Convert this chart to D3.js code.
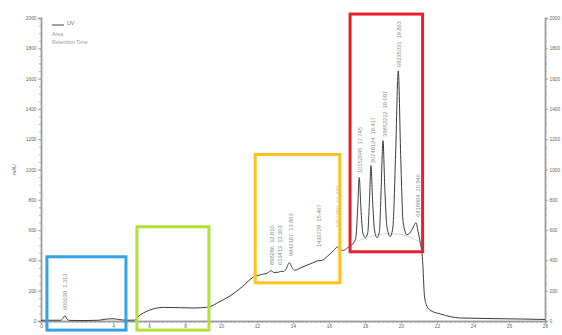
<!DOCTYPE html>
<html>
<head>
<meta charset="utf-8">
<script src="https://cdn.jsdelivr.net/npm/d3@7"></script>
<style>
  body { margin: 0; background: #fff; }
  svg { display: block; font-family: "Liberation Sans", Arial, sans-serif; }
  .pk { white-space: pre; }
</style>
</head>
<body>
<div id="chart"></div>
<script>
// retention time (min) and absorbance (mAU)
const traceTime = [0, 0.5, 1.1, 1.22, 1.33, 1.45, 1.6, 2.5, 3.2, 3.6, 4.0, 4.3, 4.8, 5.2, 5.4, 5.8, 6.3, 6.8, 7.7, 8.5, 9.2,
  9.5, 9.8, 10.5, 11.2, 11.8, 12.2, 12.6, 12.78, 12.95, 13.2, 13.3, 13.45, 13.6, 13.8, 13.98, 14.1, 14.4, 15.1, 15.4, 15.6,
  15.9, 16.3, 16.45, 16.6, 16.8, 17.05, 17.37, 17.5, 17.6, 17.68, 17.77, 17.88, 18.02, 18.15, 18.25, 18.33, 18.42, 18.53,
  18.67, 18.8, 18.9, 19.0, 19.1, 19.22, 19.4, 19.55, 19.7, 19.85, 19.98, 20.12, 20.33, 20.55, 20.72, 20.83, 20.95, 21.07,
  21.2, 21.3, 21.4, 21.6, 22.2, 23.3, 26.7, 28];
const traceMAU = [5, 5, 5, 18, 35, 12, 4, 3, 5, 12, 15, 10, 5, 6, 30, 60, 82, 90, 88, 86, 90,
  100, 120, 165, 228, 290, 305, 318, 332, 320, 322, 328, 326, 340, 385, 345, 335, 350, 384, 398, 400,
  426, 470, 488, 476, 466, 485, 517, 560, 760, 947, 750, 580, 550, 580, 800, 1026, 800, 600,
  550, 590, 880, 1190, 880, 620, 558, 620, 1100, 1651, 1100, 650, 570, 590, 630, 649, 590, 517,
  400, 170, 110, 73, 46, 20, 13, 10];

// integration baseline under the main peak cluster
const baseTime = [17.37, 18.4, 19.4, 20.4, 21.07];
const baseMAU = [517, 565, 583, 565, 517];

// peak annotations: area, retention time, anchor height of the label
const peakTimes = [1.313, 12.810, 13.303, 13.863, 15.467, 16.489, 17.745, 18.417, 19.097, 19.863, 20.946];
const peakAreas = ['600039', '898286', '613413', '9842187', '1436729', '3456990', '10152045', '20748124', '39852212', '69235331', '6418884'];
const labelBase = [73, 370, 370, 429, 488, 614, 977, 1043, 1216, 1677, 688];

// highlighted regions [t0, t1, mAU low, mAU high]
const regionColors = ['#35a2e6', '#b2e034', '#fcc41c', '#e8202c'];
const regionT0 = [0.33, 5.33, 11.9, 17.17];
const regionT1 = [4.72, 9.33, 16.6, 21.2];
const regionLow = [-60, -60, 252, 457];
const regionHigh = [424, 622, 1099, 2026];

const xTicks = [0, 4, 6, 8, 10, 12, 14, 16, 18, 20, 22, 24, 26, 28];
const yTicks = d3.range(0, 2001, 200);

const width = 562, height = 335;
const x = d3.scaleLinear().domain([0, 28]).range([41, 545]);
const y = d3.scaleLinear().domain([0, 2000]).range([321, 18]);

const svg = d3.select('#chart').append('svg')
  .attr('width', width)
  .attr('height', height);

const axisColor = '#9a9a9a';
const textColor = '#666';
const fmt = d3.format('d');

// left axis
const left = svg.append('g').attr('transform', `translate(${x(0)},0)`)
  .call(d3.axisLeft(y).tickValues(d3.range(0, 2001, 50)).tickSize(2).tickFormat(''));
left.append('g').call(d3.axisLeft(y).tickValues(yTicks).tickSize(3).tickPadding(1.5).tickFormat(fmt));

// right axis
const right = svg.append('g').attr('transform', `translate(${x(28)},0)`)
  .call(d3.axisRight(y).tickValues(d3.range(0, 2001, 50)).tickSize(2).tickFormat(''));
right.append('g').call(d3.axisRight(y).tickValues(yTicks).tickSize(3).tickPadding(1.5).tickFormat(fmt));

// bottom axis
const bottom = svg.append('g').attr('transform', `translate(0,${y(0)})`)
  .call(d3.axisBottom(x).tickValues(d3.range(0, 28.01, 0.25)).tickSize(2).tickFormat(''));
bottom.append('g').call(d3.axisBottom(x).tickValues(xTicks).tickSize(3).tickPadding(1).tickFormat(fmt));

svg.selectAll('.domain').attr('stroke', axisColor).attr('stroke-width', 1.4);
svg.selectAll('.tick line').attr('stroke', axisColor).attr('stroke-width', 0.7);
svg.selectAll('.tick text').attr('fill', textColor).attr('font-size', 4.8)
  .attr('font-family', '"Liberation Sans", Arial, sans-serif');

svg.append('text')
  .attr('transform', `translate(16,${y(1000)}) rotate(-90)`)
  .attr('text-anchor', 'middle')
  .attr('font-size', 4.8)
  .attr('fill', textColor)
  .text('mAU');

// legend
svg.append('line')
  .attr('x1', 52).attr('x2', 64).attr('y1', 25).attr('y2', 25)
  .attr('stroke', '#444').attr('stroke-width', 1);
svg.append('text').attr('x', 67).attr('y', 24.5).attr('font-size', 5.3).attr('fill', textColor).text('UV');
svg.append('text').attr('x', 52).attr('y', 36).attr('font-size', 5.3).attr('fill', '#999').text('Area');
svg.append('text').attr('x', 52).attr('y', 44).attr('font-size', 5.3).attr('fill', '#999').text('Retention Time');

// integration baseline
svg.append('path')
  .datum(baseTime.map((t, i) => [t, baseMAU[i]]))
  .attr('fill', 'none')
  .attr('stroke', '#c8c8c8')
  .attr('stroke-width', 0.8)
  .attr('d', d3.line().x(d => x(d[0])).y(d => y(d[1])).curve(d3.curveBasis));

// trace
svg.append('path')
  .datum(traceTime.map((t, i) => [t, traceMAU[i]]))
  .attr('fill', 'none')
  .attr('stroke', '#3a3a3a')
  .attr('stroke-width', 1)
  .attr('stroke-linejoin', 'round')
  .attr('d', d3.line().x(d => x(d[0])).y(d => y(d[1])).curve(d3.curveMonotoneX));

// peak labels
svg.selectAll('.pk')
  .data(peakTimes)
  .enter().append('text')
  .attr('class', 'pk')
  .attr('transform', (t, i) => `translate(${x(t) + 2},${y(labelBase[i])}) rotate(-90)`)
  .attr('font-size', 5.7)
  .attr('fill', (t, i) => i === 5 ? '#c4c0b0' : '#8a8a8a')
  .text((t, i) => `${peakAreas[i]}  ${t.toFixed(3)}`);

// highlight boxes
svg.selectAll('.region')
  .data(regionColors)
  .enter().append('rect')
  .attr('class', 'region')
  .attr('x', (c, i) => x(regionT0[i]))
  .attr('y', (c, i) => y(regionHigh[i]))
  .attr('width', (c, i) => x(regionT1[i]) - x(regionT0[i]))
  .attr('height', (c, i) => y(regionLow[i]) - y(regionHigh[i]))
  .attr('fill', 'none')
  .attr('stroke', c => c)
  .attr('stroke-width', 3);
</script>
</body>
</html>
